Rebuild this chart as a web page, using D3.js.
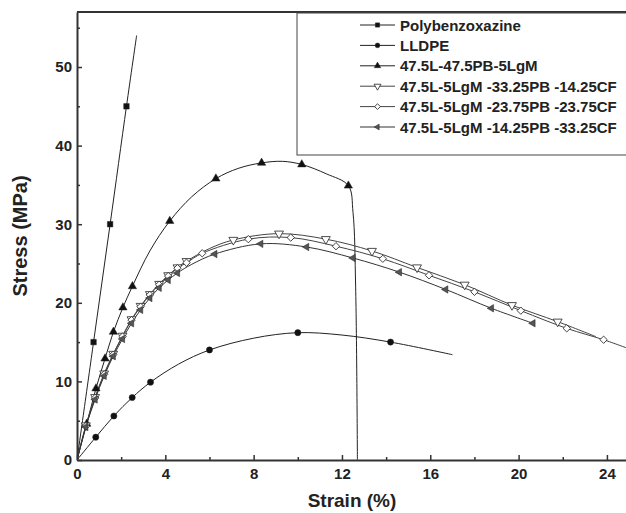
<!DOCTYPE html>
<html>
<head>
<meta charset="utf-8">
<script src="https://cdn.jsdelivr.net/npm/d3@7"></script>
<style>
  body { margin: 0; background: #fff; }
  svg text { font-family: "Liberation Sans", Arial, sans-serif; font-weight: bold; fill: #222; }
</style>
</head>
<body>
<div class="chart"></div>
<script>
// [strain %, stress MPa, 1 = marker drawn]
const names = ['Polybenzoxazine', 'LLDPE', '47.5L-47.5PB-5LgM',
  '47.5L-5LgM -33.25PB -14.25CF', '47.5L-5LgM -23.75PB -23.75CF', '47.5L-5LgM -14.25PB -33.25CF'];

const pb = [[0,0,0],[0.75,15,1],[1.5,30,1],[2.24,45,1],[2.7,54,0]];

const lldpe = [[0,0,0],[0.85,2.9,1],[1.67,5.6,1],[2.5,7.95,1],[3.33,9.9,1],[4.6,12.2,0],[6.0,14.0,1],
  [8.0,15.5,0],[10.0,16.2,1],[12.0,15.9,0],[14.2,15.0,1],[17.0,13.4,0]];

const lpbl = [[0,0,0],[0.44,4.6,1],[0.86,9.1,1],[1.27,12.9,1],[1.65,16.3,1],[2.08,19.4,1],[2.51,22.1,1],
  [3.3,26.6,0],[4.2,30.4,1],[5.2,33.5,0],[6.29,35.8,1],[7.3,37.1,0],[8.36,37.8,1],[9.3,38.0,0],
  [10.18,37.6,1],[11.3,36.4,0],[12.29,34.9,1],[12.5,31.5,0],[12.62,22,0],[12.7,0,0]];

const cf14 = [[0,0,0],[0.4,4.4,1],[0.82,8.0,1],[1.23,11.0,1],[1.64,13.5,1],[2.06,15.8,1],[2.47,17.9,1],
  [2.88,19.6,1],[3.3,21.1,1],[3.72,22.4,1],[4.13,23.5,1],[4.55,24.5,1],[4.96,25.3,1],[6.0,26.9,0],
  [7.08,28.0,1],[9.15,28.8,1],[11.27,28.1,1],[13.36,26.6,1],[15.4,24.5,1],[17.56,22.3,1],
  [19.7,19.7,1],[21.77,17.6,1],[23.5,15.7,0]];

const cf23 = [[0,0,0],[0.4,4.3,1],[0.82,7.9,1],[1.23,10.9,1],[1.64,13.4,1],[2.06,15.7,1],[2.47,17.8,1],
  [2.88,19.5,1],[3.3,21.0,1],[3.72,22.3,1],[4.13,23.4,1],[4.55,24.4,1],[4.96,25.1,1],[5.67,26.3,1],
  [7.76,28.1,1],[9.68,28.3,1],[11.73,27.2,1],[13.85,25.6,1],[15.94,23.5,1],[18.0,21.4,1],
  [20.1,19.0,1],[22.18,16.75,1],[23.85,15.3,1],[24.95,14.2,0]];

const cf33 = [[0,0,0],[0.4,4.2,1],[0.82,7.7,1],[1.23,10.7,1],[1.64,13.2,1],[2.06,15.4,1],[2.47,17.4,1],
  [2.88,19.1,1],[3.3,20.6,1],[3.72,21.9,1],[4.13,22.9,1],[4.55,23.8,1],[5.2,24.9,0],[6.24,26.2,1],
  [8.32,27.5,1],[10.4,27.1,1],[12.5,25.7,1],[14.6,23.9,1],[16.7,21.7,1],[18.77,19.3,1],[20.65,17.4,1]];

const xTicks = [0, 4, 8, 12, 16, 20, 24];
const xMinor = [2, 6, 10, 14, 18, 22];
const yTicks = [0, 10, 20, 30, 40, 50];
const yMinor = [5, 15, 25, 35, 45, 55];

const series = [pb, lldpe, lpbl, cf14, cf23, cf33];

const w = 626, h = 513;
const xScale = d3.scaleLinear().domain([0, 25]).range([77, 629]);
const yScale = d3.scaleLinear().domain([0, 57]).range([460, 12]);

const svg = d3.select('div.chart').append('svg').attr('width', w).attr('height', h);

// marker shapes: symbol, rotation, filled
const marks = [
  {type: d3.symbolSquare, size: 30, rot: 0, fill: '#111'},
  {type: d3.symbolCircle, size: 30, rot: 0, fill: '#111'},
  {type: d3.symbolTriangle, size: 30, rot: 0, fill: '#111'},
  {type: d3.symbolTriangle, size: 34, rot: 180, fill: '#fff'},
  {type: d3.symbolSquare, size: 27, rot: 45, fill: '#fff'},
  {type: d3.symbolTriangle, size: 24, rot: -90, fill: '#555'}
];
const lineCol = ['#222', '#222', '#222', '#444', '#444', '#333'];

const line = d3.line()
  .x(d => xScale(d[0]))
  .y(d => yScale(d[1]))
  .curve(d3.curveCatmullRom.alpha(0.5));

svg.append('clipPath').attr('id', 'plot')
  .append('rect').attr('x', 77).attr('y', 12).attr('width', 560).attr('height', 448);

const plot = svg.append('g').attr('clip-path', 'url(#plot)');

series.forEach((s, i) => {
  plot.append('path')
    .attr('d', line(s))
    .attr('fill', 'none')
    .attr('stroke', lineCol[i])
    .attr('stroke-width', 1);
});

series.forEach((s, i) => {
  const m = marks[i];
  plot.selectAll('.m' + i)
    .data(s.filter(d => d[2]))
    .enter()
    .append('path')
    .attr('class', 'm' + i)
    .attr('d', d3.symbol().type(m.type).size(m.size))
    .attr('transform', d => 'translate(' + xScale(d[0]) + ',' + yScale(d[1]) + ') rotate(' + m.rot + ')')
    .attr('fill', m.fill)
    .attr('stroke', '#222')
    .attr('stroke-width', m.fill === '#fff' ? 0.8 : 0.5);
});

// axes
const xAxis = d3.axisBottom(xScale).tickValues(xTicks).tickSize(-5).tickSizeOuter(0).tickPadding(8);
const xAxisMinor = d3.axisBottom(xScale).tickValues(xMinor).tickSize(-3).tickFormat('');
const yAxis = d3.axisLeft(yScale).tickValues(yTicks).tickSize(-5).tickSizeOuter(0).tickPadding(5);
const yAxisMinor = d3.axisLeft(yScale).tickValues(yMinor).tickSize(-3).tickFormat('');

svg.append('g').attr('transform', 'translate(0,' + yScale(0) + ')').call(xAxisMinor).select('.domain').remove();
svg.append('g').attr('transform', 'translate(' + xScale(0) + ',0)').call(yAxisMinor).select('.domain').remove();
svg.append('g').attr('transform', 'translate(0,' + yScale(0) + ')').call(xAxis);
svg.append('g').attr('transform', 'translate(' + xScale(0) + ',0)').call(yAxis);

svg.append('line')
  .attr('x1', xScale(0)).attr('x2', w)
  .attr('y1', yScale(57)).attr('y2', yScale(57))
  .attr('stroke', '#333').attr('stroke-width', 2);

svg.selectAll('.domain').attr('stroke', '#333').attr('stroke-width', 2);
svg.selectAll('.tick line').attr('stroke', '#333').attr('stroke-width', 1.5);
svg.selectAll('.tick text').style('font-size', '15px').attr('fill', '#222');

svg.append('text')
  .attr('transform', 'translate(27,' + yScale(28.5) + ') rotate(-90)')
  .attr('text-anchor', 'middle')
  .style('font-size', '20px')
  .text('Stress (MPa)');

svg.append('text')
  .attr('x', 352).attr('y', 507)
  .attr('text-anchor', 'middle')
  .style('font-size', '19px')
  .text('Strain (%)');

// legend
const lg = svg.append('g');
lg.append('rect')
  .attr('x', 297).attr('y', 13).attr('width', 340).attr('height', 142)
  .attr('fill', '#fff').attr('stroke', '#444').attr('stroke-width', 1);

names.forEach((n, i) => {
  const y = 25 + i * 20.4;
  const m = marks[i];
  lg.append('line').attr('x1', 360).attr('x2', 395).attr('y1', y).attr('y2', y)
    .attr('stroke', lineCol[i]).attr('stroke-width', 1);
  lg.append('path')
    .attr('d', d3.symbol().type(m.type).size(m.size * 0.6))
    .attr('transform', 'translate(377.5,' + y + ') rotate(' + m.rot + ')')
    .attr('fill', m.fill).attr('stroke', '#222')
    .attr('stroke-width', m.fill === '#fff' ? 0.8 : 0.5);
  lg.append('text').attr('x', 400).attr('y', y + 5.5)
    .style('font-size', '15px')
    .text(n);
});
</script>
</body>
</html>
